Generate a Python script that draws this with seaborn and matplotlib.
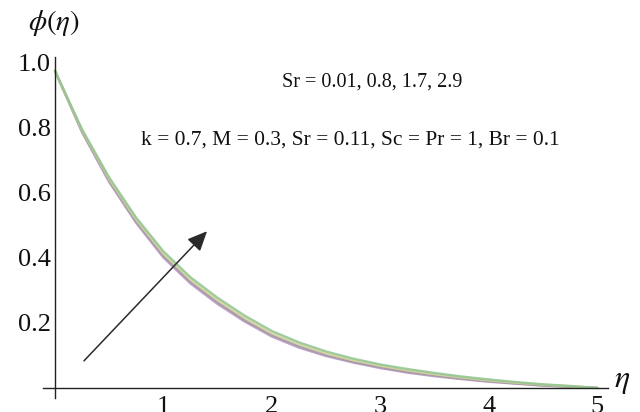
import matplotlib
matplotlib.use("Agg")
import matplotlib.pyplot as plt
from matplotlib.ticker import MultipleLocator, FormatStrFormatter
import seaborn as sns
import pandas as pd

# ---- data ----
eta = [0.0, 0.25, 0.5, 0.75, 1.0, 1.25, 1.5, 1.75, 2.0, 2.25, 2.5,
       2.75, 3.0, 3.25, 3.5, 3.75, 4.0, 4.25, 4.5, 4.75, 5.0]
phi_sr_001 = [0.975, 0.786, 0.633, 0.507, 0.401, 0.321, 0.258, 0.204, 0.158, 0.124, 0.098,
              0.078, 0.061, 0.047, 0.036, 0.027, 0.019, 0.013, 0.007, 0.003, 0.0]
phi_sr_08 = [0.975, 0.789, 0.638, 0.512, 0.407, 0.327, 0.264, 0.209, 0.163, 0.129, 0.102,
             0.081, 0.064, 0.050, 0.039, 0.029, 0.021, 0.014, 0.008, 0.004, 0.0]
phi_sr_17 = [0.975, 0.792, 0.642, 0.517, 0.413, 0.333, 0.270, 0.215, 0.168, 0.134, 0.106,
             0.085, 0.068, 0.054, 0.042, 0.032, 0.023, 0.016, 0.010, 0.005, 0.0]
phi_sr_29 = [0.975, 0.795, 0.647, 0.523, 0.420, 0.340, 0.277, 0.222, 0.175, 0.140, 0.112,
             0.090, 0.072, 0.058, 0.046, 0.035, 0.026, 0.018, 0.011, 0.006, 0.0]
sr_labels = ["0.01", "0.8", "1.7", "2.9"]
x_ticks = [1, 2, 3, 4, 5]
y_ticks = [0.2, 0.4, 0.6, 0.8, 1.0]

series = [phi_sr_001, phi_sr_08, phi_sr_17, phi_sr_29]
df = pd.concat([pd.DataFrame({"eta": eta, "phi": s, "Sr": lab})
                for s, lab in zip(series, sr_labels)], ignore_index=True)

sns.set_theme(style="white")
plt.rcParams["font.family"] = ["Liberation Serif", "DejaVu Serif"]
plt.rcParams["mathtext.fontset"] = "stix"

fig = plt.figure(figsize=(6.4, 4.12), dpi=100)
fig.patch.set_facecolor("white")
ax = fig.add_axes([0.0672, 0.034, 0.883, 0.828])
ax.set_facecolor("white")

palette = ["#b48fc4", "#9c9a98", "#d9d6a0", "#8fc48f"]
sns.lineplot(data=df, x="eta", y="phi", hue="Sr", palette=palette,
             linewidth=1.7, alpha=0.85, legend=False, ax=ax, sort=False)

ax.set_xlim(-0.11, 5.10)
ax.set_ylim(-0.031, 1.018)

for side in ["top", "right"]:
    ax.spines[side].set_visible(False)
ax.spines["left"].set_position(("data", 0))
ax.spines["bottom"].set_position(("data", 0))
for side in ["left", "bottom"]:
    ax.spines[side].set_color("#222222")
    ax.spines[side].set_linewidth(1.0)

ax.set_xticks(x_ticks)
ax.set_xticklabels([str(t) for t in x_ticks])
ax.set_yticks(y_ticks)
ax.yaxis.set_major_formatter(FormatStrFormatter("%.1f"))
ax.xaxis.set_minor_locator(MultipleLocator(0.2))
ax.yaxis.set_minor_locator(MultipleLocator(0.05))
ax.tick_params(axis="both", which="major", direction="in", length=6, width=1.0,
               color="#222222", labelcolor="#111111")
ax.tick_params(axis="both", which="minor", direction="in", length=3, width=0.8,
               color="#222222")
ax.tick_params(axis="y", which="major", labelsize=19, pad=3)
ax.tick_params(axis="x", which="major", labelsize=19, pad=6)
ax.set_xlabel("")
ax.set_ylabel("")

# arrow showing increasing Sr
ax.annotate("", xy=(1.42, 0.488), xytext=(0.25, 0.077),
            arrowprops=dict(arrowstyle="-|>,head_length=1.0,head_width=0.45",
                            color="#2a2a2a", lw=1.1))

fig.text(0.581, 0.801, "Sr = 0.01, 0.8, 1.7, 2.9", ha="center", va="center",
         fontsize=14.5, color="#111111")
fig.text(0.547, 0.660, "k = 0.7, M = 0.3, Sr = 0.11, Sc = Pr = 1, Br = 0.1",
         ha="center", va="center", fontsize=15.5, color="#111111")
fig.text(0.085, 0.945, r"$\phi(\eta)$", ha="center", va="center", fontsize=21,
         color="#111111")
fig.text(0.972, 0.075, r"$\eta$", ha="center", va="center", fontsize=23,
         color="#111111")

fig.savefig("out.png", dpi=100, facecolor="white")
